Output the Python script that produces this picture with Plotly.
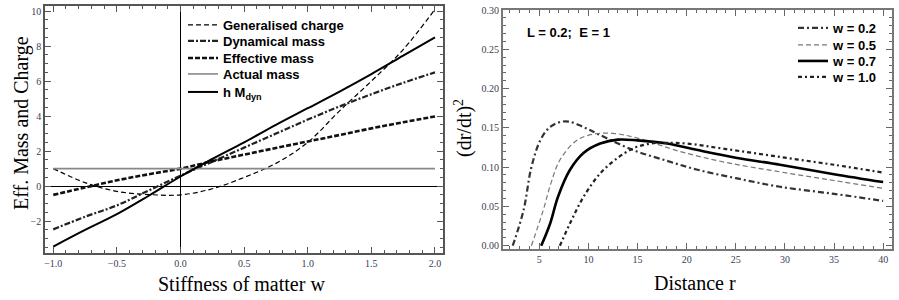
import plotly.graph_objects as go

# ---------------- Left panel data ----------------
w = [-1.0, -0.75, -0.5, -0.25, 0.0, 0.25, 0.5, 0.75, 1.0, 1.25, 1.5, 1.75, 2.0]
gen_charge = [1.0, 0.2, -0.3, -0.48, -0.5, -0.15, 0.5, 1.3, 2.5, 4.3, 6.0, 7.8, 10.1]
dyn_mass = [-2.47, -1.75, -1.1, -0.25, 0.6, 1.4, 2.2, 3.0, 3.8, 4.55, 5.25, 5.9, 6.5]
eff_mass = [-0.5, -0.08, 0.33, 0.68, 1.0, 1.42, 1.8, 2.18, 2.55, 2.92, 3.3, 3.65, 3.98]
actual_mass = [1, 1, 1, 1, 1, 1, 1, 1, 1, 1, 1, 1, 1]
h_mdyn = [-3.45, -2.5, -1.6, -0.55, 0.55, 1.55, 2.5, 3.5, 4.45, 5.4, 6.4, 7.45, 8.5]

# ---------------- Right panel data ----------------
r_w02 = [2.3, 3.4, 4.2, 5.1, 6.0, 7.0, 8.0, 9.5, 11.0, 14.5, 18.0, 21.0, 25.0, 29.5, 35.0, 40.0]
v_w02 = [0.0, 0.045, 0.10, 0.134, 0.150, 0.157, 0.158, 0.151, 0.142, 0.122, 0.108, 0.097, 0.086, 0.075, 0.066, 0.057]
r_w05 = [4.2, 5.4, 6.2, 7.1, 8.8, 10.5, 12.5, 15.0, 19.3, 24.0, 29.5, 35.0, 40.0]
v_w05 = [0.0, 0.045, 0.08, 0.109, 0.134, 0.142, 0.143, 0.137, 0.120, 0.106, 0.094, 0.083, 0.073]
r_w07 = [5.2, 6.1, 6.9, 8.1, 9.5, 11.2, 13.0, 15.0, 18.0, 21.0, 25.0, 29.5, 35.0, 40.0]
v_w07 = [0.0, 0.028, 0.062, 0.096, 0.118, 0.130, 0.135, 0.134, 0.130, 0.122, 0.112, 0.103, 0.091, 0.081]
r_w10 = [7.1, 8.3, 9.5, 11.2, 12.9, 14.6, 16.3, 18.0, 20.0, 24.0, 29.5, 35.0, 40.0]
v_w10 = [0.0, 0.033, 0.062, 0.092, 0.111, 0.124, 0.130, 0.131, 0.130, 0.123, 0.113, 0.103, 0.093]

left_names = ["Generalised charge", "Dynamical mass", "Effective mass", "Actual mass", "h M<sub>dyn</sub>"]
right_names = ["w = 0.2", "w = 0.5", "w = 0.7", "w = 1.0"]

W, H = 899, 300
fig = go.Figure()

legend_font = dict(family="Liberation Sans", size=13, color="black", weight="bold")
legend_layouts = {}
legend_count = [0]

def new_legend(x_px, top_px):
    legend_count[0] += 1
    key = "legend" if legend_count[0] == 1 else "legend%d" % legend_count[0]
    legend_layouts[key] = dict(x=x_px / W, y=1 - top_px / H, xanchor="left", yanchor="top",
                               bgcolor="rgba(0,0,0,0)", font=legend_font, itemwidth=30)
    return key

left_series = [gen_charge, dyn_mass, eff_mass, actual_mass, h_mdyn]
left_styles = [
    dict(color="black", width=1.2, dash="5px,3px"),
    dict(color="#222", width=2.2, dash="6px,2px,2px,2px"),
    dict(color="#111", width=2.6, dash="5px,2px"),
    dict(color="#888", width=1.6),
    dict(color="black", width=2.0),
]
left_tops = [10, 26, 43, 59, 77]
for name, ys, st, top in zip(left_names, left_series, left_styles, left_tops):
    lg = new_legend(183, top)
    fig.add_trace(go.Scatter(x=w, y=ys, mode="lines", name=name, line=dict(shape="spline", **st),
                             xaxis="x", yaxis="y", legend=lg))

right_series = [(r_w02, v_w02), (r_w05, v_w05), (r_w07, v_w07), (r_w10, v_w10)]
right_styles = [
    dict(color="#333", width=2.2, dash="6px,3px,2px,3px"),
    dict(color="#777", width=1.2, dash="5px,3px"),
    dict(color="black", width=2.6),
    dict(color="#222", width=2.2, dash="4px,3px,2px,3px"),
]
right_tops = [13, 30, 46, 62]
for name, (xs, ys), st, top in zip(right_names, right_series, right_styles, right_tops):
    lg = new_legend(793, top)
    fig.add_trace(go.Scatter(x=xs, y=ys, mode="lines", name=name, line=dict(shape="spline", **st),
                             xaxis="x2", yaxis="y2", legend=lg))

tickfont = dict(family="Liberation Serif", size=10, color="#3a4050")

def ax(**kw):
    base = dict(showgrid=False, showline=True, mirror="ticks", ticks="inside", ticklen=6,
                tickwidth=1, tickfont=tickfont, automargin=False)
    base.update(kw)
    return base

fig.update_layout(
    width=W, height=H, margin=dict(l=0, r=0, t=0, b=0),
    paper_bgcolor="white", plot_bgcolor="white",
    xaxis=ax(domain=[45 / W, 443 / W], range=[-1.065, 2.063], dtick=0.5, tick0=0, tickformat=".1f",
             linecolor="#555", linewidth=1.5, tickcolor="#555",
             minor=dict(ticks="inside", dtick=0.1, ticklen=3, tickcolor="#555"),
             zeroline=True, zerolinecolor="black", zerolinewidth=1.2, anchor="y"),
    yaxis=ax(domain=[1 - 253 / H, 1 - 6 / H], range=[-3.82, 10.29], dtick=2, tick0=0,
             linecolor="#555", linewidth=1.5, tickcolor="#555",
             minor=dict(ticks="inside", dtick=0.5, ticklen=3, tickcolor="#555"),
             zeroline=True, zerolinecolor="black", zerolinewidth=1.2, anchor="x"),
    xaxis2=ax(domain=[503 / W, 892 / W], range=[1.31, 40.9], dtick=5, tick0=0,
              linecolor="#777", linewidth=2, tickcolor="#666",
              minor=dict(ticks="inside", dtick=1, ticklen=3, tickcolor="#666"),
              zeroline=False, anchor="y2"),
    yaxis2=ax(domain=[1 - 249 / H, 1 - 10 / H], range=[-0.0042, 0.30], dtick=0.05, tick0=0,
              tickformat=".2f", linecolor="#777", linewidth=2, tickcolor="#666",
              minor=dict(ticks="inside", dtick=0.01, ticklen=3, tickcolor="#666"),
              zeroline=False, anchor="x2"),
    showlegend=True,
    **legend_layouts,
)

serif = dict(family="Liberation Serif", size=20, color="black")
fig.add_annotation(text="Eff. Mass and Charge", x=22 / W, y=1 - 123 / H, xref="paper", yref="paper",
                   textangle=-90, showarrow=False, font=serif, xanchor="center", yanchor="middle")
fig.add_annotation(text="Stiffness of matter w", x=242 / W, y=1 - 284 / H, xref="paper", yref="paper",
                   showarrow=False, font=serif, xanchor="center", yanchor="middle")
fig.add_annotation(text="(dr/dt)<sup>2</sup>", x=463 / W, y=1 - 128 / H, xref="paper", yref="paper",
                   textangle=-90, showarrow=False, font=serif, xanchor="center", yanchor="middle")
fig.add_annotation(text="Distance r", x=695 / W, y=1 - 283 / H, xref="paper", yref="paper",
                   showarrow=False, font=serif, xanchor="center", yanchor="middle")
fig.add_annotation(text="L = 0.2;  E = 1", x=568 / W, y=1 - 33 / H, xref="paper", yref="paper",
                   showarrow=False, xanchor="center", yanchor="middle",
                   font=dict(family="Liberation Sans", size=13, color="black", weight="bold"))

fig.write_html("out.html", config={"displayModeBar": False},
               post_script="document.body.style.margin='0px';")
